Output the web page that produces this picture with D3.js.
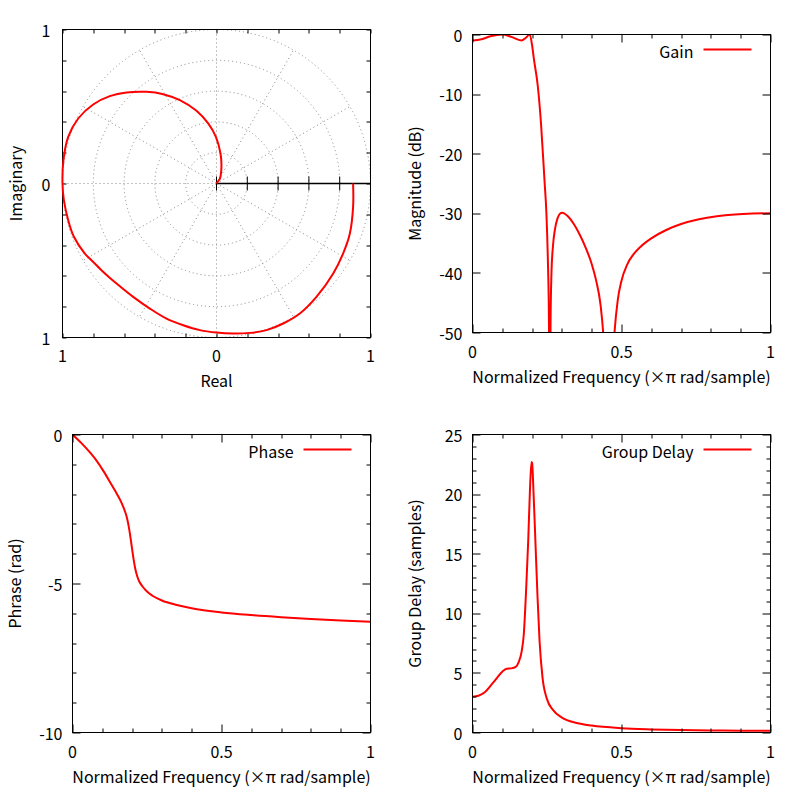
<!DOCTYPE html>
<html><head><meta charset="utf-8">
<script src="https://cdn.jsdelivr.net/npm/d3@7/dist/d3.min.js"></script>
<style>body{margin:0;background:#fff}</style>
</head><body><svg id="c" width="800" height="800"></svg>
<script>
const FONT = '"Noto Sans CJK JP","Noto Sans",sans-serif';
const FS = 16;
const XLABEL = "Normalized Frequency (×π rad/sample)";

// Polar (Nyquist) curve points: real / imaginary parts
const polarRe = [0.887,0.887,0.866,0.822,0.758,0.649,0.541,0.433,0.325,0.216,0.108,0,-0.108,-0.216,-0.325,-0.433,-0.541,-0.623,-0.69,-0.747,-0.812,-0.855,-0.926,-0.963,-0.991,-1.0,-0.994,-0.963,-0.898,-0.801,-0.693,-0.584,-0.455,-0.346,-0.238,-0.130,-0.054,-0.004,0.026,0.032,0.022,0.004,0.0];
const polarIm = [0,-0.152,-0.325,-0.455,-0.584,-0.736,-0.844,-0.909,-0.952,-0.970,-0.974,-0.968,-0.952,-0.920,-0.877,-0.812,-0.736,-0.671,-0.615,-0.563,-0.498,-0.455,-0.346,-0.238,-0.108,0,0.152,0.303,0.422,0.513,0.567,0.591,0.595,0.580,0.541,0.472,0.390,0.303,0.195,0.108,0.032,0.006,0.0];
const polarTicks = [-1,-0.8,-0.6,-0.4,-0.2,0,0.2,0.4,0.6,0.8,1];
const polarLabels = [-1,0,1];
const polarRings = [0.2,0.4,0.6,0.8,1.0];
const polarSpokesDeg = [30,60,90,120,150,180,210,240,270,300,330];
const polarAxisTicks = [0,0.2,0.4,0.6,0.8];

// Gain (dB)
const gainF  = [0,0.03,0.06,0.1,0.13,0.164,0.18,0.192,0.2,0.206,0.219,0.23,0.2416,0.248,0.253,0.2565,0.259,0.262,0.265,0.27,0.277,0.285,0.293,0.301,0.32,0.34,0.36,0.38,0.4,0.415,0.43,0.4385,0.447,0.457,0.467,0.4765,0.4876,0.5,0.519,0.54,0.564,0.6,0.65,0.7,0.76,0.82,0.88,0.94,1];
const gainDb = [-1.0,-0.8,-0.3,0,-0.4,-1.0,-0.5,0,-1.8,-4.1,-8.6,-15,-24.5,-30,-38,-48,-70,-48,-40,-35.5,-32.6,-30.9,-30.1,-29.9,-30.5,-31.8,-33.6,-35.8,-38.5,-41.3,-45.5,-50,-58,-80,-58,-50,-44.5,-41.3,-38.6,-36.9,-35.6,-34.2,-32.8,-31.8,-31.0,-30.5,-30.2,-30.05,-30.0];
const gainYTicks = [0,-10,-20,-30,-40,-50];

// Phase (rad)
const phaseF = [0,0.03,0.06,0.08,0.104,0.13,0.15,0.165,0.175,0.182,0.188,0.193,0.198,0.202,0.206,0.211,0.218,0.225,0.235,0.25,0.27,0.3,0.35,0.4,0.5,0.6,0.7,0.8,0.9,1];
const phaseRad = [0,-0.29,-0.62,-0.87,-1.23,-1.67,-2.01,-2.3,-2.55,-2.77,-3.05,-3.35,-3.7,-3.98,-4.25,-4.52,-4.78,-4.95,-5.1,-5.27,-5.42,-5.57,-5.72,-5.83,-5.97,-6.06,-6.13,-6.19,-6.24,-6.28];
const phaseYMajor = [0,-5,-10];
const phaseYMinor = [-1,-2,-3,-4,-6,-7,-8,-9];

// Group delay (samples)
const gdF = [0,0.02,0.04,0.07,0.1,0.115,0.13,0.145,0.155,0.165,0.172,0.18,0.187,0.193,0.198,0.2,0.205,0.211,0.218,0.225,0.235,0.25,0.27,0.3,0.35,0.4,0.5,0.6,0.7,0.8,0.9,1];
const gdVal = [3.0,3.08,3.35,4.2,5.1,5.35,5.38,5.5,5.9,6.8,8.2,12,16.1,20.5,22.7,22.6,20,16.1,11.5,7.7,4.6,2.8,1.9,1.25,0.8,0.58,0.36,0.26,0.2,0.17,0.15,0.14];
const gdYMajor = [0,5,10,15,20,25];
const gdYMinor = d3.range(0,26).filter(v => v % 5 !== 0);

const freqMajor = [0,0.5,1];
const freqMinor = [0.1,0.2,0.3,0.4,0.6,0.7,0.8,0.9];

const svg = d3.select("#c");

function frame(g, w, h) {
  g.append("rect").attr("x",0).attr("y",0).attr("width",w).attr("height",h)
    .attr("fill","none").attr("stroke","#000").attr("stroke-width",1);
}
function ticks(g, x, y, w, h, xvals, yvals, len) {
  xvals.forEach(v => {
    const px = Math.round(x(v)) + 0.5;
    g.append("line").attr("x1",px).attr("x2",px).attr("y1",h).attr("y2",h-len).attr("stroke","#000");
    g.append("line").attr("x1",px).attr("x2",px).attr("y1",0).attr("y2",len).attr("stroke","#000");
  });
  yvals.forEach(v => {
    const py = Math.round(y(v)) + 0.5;
    g.append("line").attr("x1",0).attr("x2",len).attr("y1",py).attr("y2",py).attr("stroke","#000");
    g.append("line").attr("x1",w).attr("x2",w-len).attr("y1",py).attr("y2",py).attr("stroke","#000");
  });
}
function txt(g, x, y, s, anchor, rot) {
  const t = g.append("text").attr("x",x).attr("y",y).attr("text-anchor",anchor||"middle")
    .attr("dominant-baseline","central").attr("font-family",FONT).attr("font-size",FS).attr("fill","#000").text(s);
  if (rot) t.attr("transform",`rotate(${rot},${x},${y})`);
  return t;
}
function legend(g, w, label) {
  txt(g, w-77, 16, label, "end");
  g.append("line").attr("x1",w-67).attr("x2",w-19).attr("y1",15).attr("y2",15)
    .attr("stroke","#ff0000").attr("stroke-width",2);
}

// ---------- Polar panel ----------
{
  const L = 62.5, T = 29.5, S = 308;
  const g = svg.append("g").attr("transform",`translate(${L},${T})`);
  const x = d3.scaleLinear().domain([-1,1]).range([0,S]);
  const y = d3.scaleLinear().domain([-1,1]).range([S,0]);
  const r = d3.scaleLinear().domain([0,1]).range([0,S/2]);
  const cx = x(0), cy = y(0);
  const grid = g.append("g").attr("stroke","#888").attr("stroke-width",1).attr("stroke-dasharray","1,3").attr("fill","none");
  polarRings.forEach(v => grid.append("circle").attr("cx",cx).attr("cy",cy).attr("r",r(v)));
  polarSpokesDeg.forEach(d => {
    const a = d*Math.PI/180;
    grid.append("line").attr("x1",cx).attr("y1",cy)
      .attr("x2",x(Math.cos(a))).attr("y2",y(Math.sin(a)));
  });
  g.append("line").attr("x1",cx).attr("y1",cy).attr("x2",x(1)).attr("y2",cy).attr("stroke","#000").attr("stroke-width",1.5);
  polarAxisTicks.forEach(v => {
    g.append("line").attr("x1",x(v)).attr("x2",x(v)).attr("y1",cy-7).attr("y2",cy+7).attr("stroke","#000").attr("stroke-width",1);
  });
  frame(g, S, S);
  ticks(g, x, y, S, S, polarTicks, polarTicks, 4);
  polarLabels.forEach(v => {
    txt(g, x(v), S+17, String(Math.abs(v)), "middle");
    txt(g, -12, y(v), String(Math.abs(v)), "end");
  });
  txt(g, S/2, S+42, "Real", "middle");
  txt(g, -48, S/2, "Imaginary", "middle", -90);
  const pts = polarRe.map((v,i) => [v, polarIm[i]]);
  g.append("path").datum(pts).attr("fill","none").attr("stroke","#ff0000").attr("stroke-width",2)
    .attr("d", d3.line().x(d => x(d[0])).y(d => y(d[1])).curve(d3.curveCatmullRom.alpha(0.5)));
}

// ---------- Generic frequency panel ----------
function freqPanel(id, L, T, W, H, ydom, yMajor, yMinor, fArr, vArr, ylabel, legendLabel) {
  const g = svg.append("g").attr("transform",`translate(${L},${T})`);
  const x = d3.scaleLinear().domain([0,1]).range([0,W]);
  const y = d3.scaleLinear().domain(ydom).range([H,0]);
  g.append("clipPath").attr("id",id).append("rect").attr("x",0).attr("y",0).attr("width",W).attr("height",H);
  const pts = fArr.map((f,i) => [f, vArr[i]]);
  g.append("path").datum(pts).attr("clip-path",`url(#${id})`).attr("fill","none").attr("stroke","#ff0000").attr("stroke-width",2)
    .attr("d", d3.line().x(d => x(d[0])).y(d => y(d[1])).curve(d3.curveMonotoneX));
  frame(g, W, H);
  ticks(g, x, y, W, H, freqMajor, yMajor, 8);
  ticks(g, x, y, W, H, freqMinor, yMinor, 4);
  freqMajor.forEach(v => txt(g, x(v), H+18, String(v), "middle"));
  yMajor.forEach(v => txt(g, -10, y(v), String(v), "end"));
  txt(g, W/2, H+43, XLABEL, "middle");
  txt(g, -59, H/2, ylabel, "middle", -90);
  legend(g, W, legendLabel);
}

freqPanel("cg", 472.5, 34.5, 298, 298, [-50,0], gainYTicks, [], gainF, gainDb, "Magnitude (dB)", "Gain");
freqPanel("cp", 72.5, 434.5, 298, 298, [-10,0], phaseYMajor, phaseYMinor, phaseF, phaseRad, "Phrase (rad)", "Phase");
freqPanel("cd", 472.5, 434.5, 298, 298, [0,25], gdYMajor, gdYMinor, gdF, gdVal, "Group Delay (samples)", "Group Delay");
</script>
</body></html>
